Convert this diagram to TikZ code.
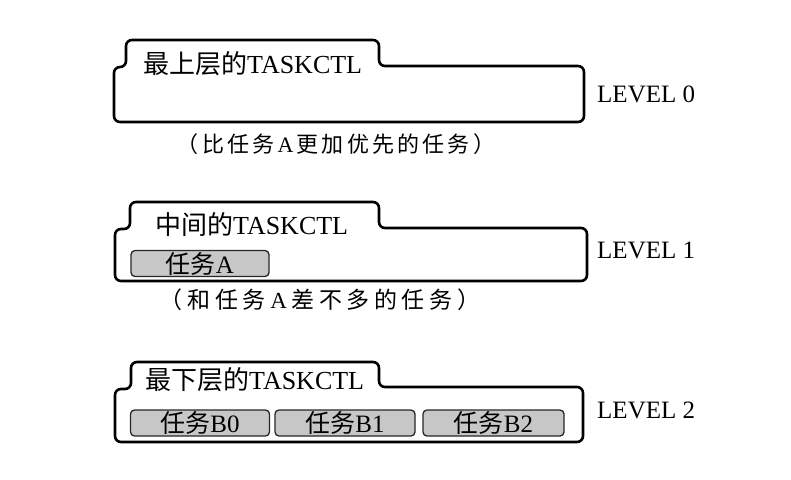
\documentclass[tikz,border=0pt]{standalone}
\usepackage{fontspec}
\setmainfont{Liberation Serif}
\newfontfamily\cjk{Noto Sans CJK SC}
\newcommand{\gp}{\hspace{3.2pt}}
\newcommand{\gq}{\hspace{4.6pt}}
\tikzset{
  frame/.style={line width=2.6pt, rounded corners=6pt},
  taskbox/.style={draw=black!85, line width=1.3pt, fill=black!22, rounded corners=4pt,
    minimum height=26pt, inner sep=0pt, font=\fontsize{25}{28}\selectfont},
  title/.style={font=\fontsize{26}{30}\selectfont, inner sep=0pt, anchor=west},
  level/.style={font=\fontsize{25}{28}\selectfont, anchor=west, inner sep=0pt},
  caption/.style={font=\fontsize{22}{26}\selectfont, inner sep=0pt}
}
\begin{document}
\begin{tikzpicture}[x=1pt,y=-1pt]
\useasboundingbox (0,0) rectangle (791,479);
% level 0
\draw[frame] (114,122) -- (114,67) -- (126,67) -- (126,40) -- (379,40) -- (379,66) -- (584,66) -- (584,122) -- cycle;
\node[title] (t0) at (143,64) {{\cjk 最上层的}TASKCTL};
\node[level] (l0) at (597,94) {LEVEL 0};
\node[caption] (c0) at (336,144) {{\cjk （\gp 比\gp 任\gp 务}\gp A\gp{\cjk 更\gp 加\gp 优\gp 先\gp 的\gp 任\gp 务\gp ）}};
% level 1
\draw[frame] (115,281) -- (115,229) -- (130,229) -- (130,202) -- (379,202) -- (379,228) -- (587,228) -- (587,281) -- cycle;
\node[title] (t1) at (155,225) {{\cjk 中间的}TASKCTL};
\node[taskbox, minimum width=138pt] (a) at (200,263.5) {{\cjk 任务}A};
\node[level] (l1) at (597,250) {LEVEL 1};
\node[caption, font=\fontsize{23}{26}\selectfont] (c1) at (320,300) {{\cjk （\gq 和\gq 任\gq 务}\gq A\gq{\cjk 差\gq 不\gq 多\gq 的\gq 任\gq 务\gq ）}};
% level 2
\draw[frame] (115,442) -- (115,389) -- (131,389) -- (131,362) -- (379,362) -- (379,387) -- (583,387) -- (583,442) -- cycle;
\node[title] (t2) at (145,380) {{\cjk 最下层的}TASKCTL};
\node[taskbox, minimum width=139pt] (b0) at (200,423) {{\cjk 任务}B0};
\node[taskbox, minimum width=140pt] (b1) at (345,423) {{\cjk 任务}B1};
\node[taskbox, minimum width=141pt] (b2) at (493.5,423) {{\cjk 任务}B2};
\node[level] (l2) at (597,410) {LEVEL 2};
\end{tikzpicture}
\end{document}
